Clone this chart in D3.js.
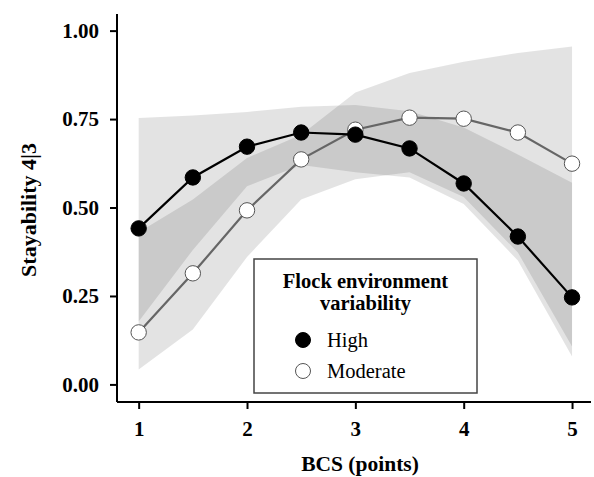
<!DOCTYPE html>
<html>
<head>
<meta charset="utf-8">
<script src="https://cdn.jsdelivr.net/npm/d3@7/dist/d3.min.js"></script>
<style>
  html, body { margin: 0; padding: 0; background: #fff; }
  svg { display: block; }
  text { font-family: "Liberation Serif", "Times New Roman", serif; }
</style>
</head>
<body>
<svg id="chart" width="594" height="477"></svg>
<script>
const bcs = [1, 1.5, 2, 2.5, 3, 3.5, 4, 4.5, 5];
const highValues = [0.441, 0.585, 0.672, 0.712, 0.706, 0.667, 0.568, 0.418, 0.246];
const highLower = [0.178, 0.38, 0.56, 0.62, 0.60, 0.585, 0.51, 0.35, 0.079];
const highUpper = [0.753, 0.76, 0.77, 0.785, 0.79, 0.772, 0.726, 0.65, 0.57];
const moderateValues = [0.147, 0.314, 0.492, 0.636, 0.72, 0.754, 0.751, 0.712, 0.624];
const moderateLower = [0.042, 0.155, 0.36, 0.523, 0.58, 0.60, 0.53, 0.373, 0.107];
const moderateUpper = [0.43, 0.523, 0.64, 0.706, 0.825, 0.88, 0.912, 0.937, 0.955];
const xTicks = [1, 2, 3, 4, 5];
const yTicks = [0, 0.25, 0.5, 0.75, 1.0];
const yTickLabels = ["0.00", "0.25", "0.50", "0.75", "1.00"];
const legendTitle = ["Flock environment", "variability"];
const seriesNames = ["High", "Moderate"];

const svg = d3.select("#chart");
const x = d3.scaleLinear().domain([0.8, 5.175]).range([117, 591]);
const y = d3.scaleLinear().domain([-0.0497, 1.047]).range([402, 14]);

const series = [
  { name: seriesNames[0], vals: highValues, lo: highLower, hi: highUpper, line: "#000", fill: "#000", stroke: "#000" },
  { name: seriesNames[1], vals: moderateValues, lo: moderateLower, hi: moderateUpper, line: "#666", fill: "#fff", stroke: "#555" }
];

// bands
const area = d3.area().x(d => x(d.x)).y0(d => y(d.lo)).y1(d => y(d.hi));
series.slice().reverse().forEach(s => {
  const pts = bcs.map((b, i) => ({ x: b, lo: s.lo[i], hi: s.hi[i] }));
  svg.append("path").attr("d", area(pts)).attr("fill", "#000").attr("fill-opacity", 0.11);
});

// lines
const line = d3.line().x(d => x(d.x)).y(d => y(d.v));
series.slice().reverse().forEach(s => {
  const pts = bcs.map((b, i) => ({ x: b, v: s.vals[i] }));
  svg.append("path").attr("d", line(pts)).attr("fill", "none")
    .attr("stroke", s.line).attr("stroke-width", 2.2);
});
series.slice().reverse().forEach(s => {
  svg.selectAll(null).data(bcs.map((b, i) => ({ x: b, v: s.vals[i] }))).enter()
    .append("circle").attr("cx", d => x(d.x)).attr("cy", d => y(d.v)).attr("r", 7.7)
    .attr("fill", s.fill).attr("stroke", s.stroke).attr("stroke-width", 1);
});

// axes
const xAxis = d3.axisBottom(x).tickValues(xTicks).tickFormat(d3.format("d")).tickSize(7).tickSizeOuter(0).tickPadding(12);
const gx = svg.append("g").attr("transform", "translate(0,402)").call(xAxis);
const yAxis = d3.axisLeft(y).tickValues(yTicks).tickFormat((d, i) => yTickLabels[i]).tickSize(7).tickSizeOuter(0).tickPadding(11);
const gy = svg.append("g").attr("transform", "translate(117,0)").call(yAxis);
[gx, gy].forEach(g => {
  g.select(".domain").attr("stroke", "#000").attr("stroke-width", 2);
  g.selectAll(".tick line").attr("stroke", "#000").attr("stroke-width", 2);
  g.selectAll(".tick text").attr("fill", "#000").attr("font-size", 21).attr("font-weight", "bold")
    .attr("font-family", '"Liberation Serif", serif');
});
gy.select(".domain").attr("d", "M0,402V14");
gx.select(".domain").attr("d", "M117,0H591");

// axis titles
svg.append("text").attr("x", 360).attr("y", 471).attr("text-anchor", "middle")
  .attr("font-size", 21.5).attr("font-weight", "bold").text("BCS (points)");
svg.append("text").attr("transform", "translate(36,210) rotate(-90)").attr("text-anchor", "middle")
  .attr("font-size", 22).attr("font-weight", "bold").text("Stayability 4|3");

// legend
const lg = svg.append("g");
lg.append("rect").attr("x", 254).attr("y", 259).attr("width", 223).attr("height", 134)
  .attr("fill", "#fff").attr("stroke", "#444").attr("stroke-width", 1.5);
legendTitle.forEach((t, i) => {
  lg.append("text").attr("x", 365.5).attr("y", 287.5 + i * 22).attr("text-anchor", "middle")
    .attr("font-size", 20.5).attr("font-weight", "bold").text(t);
});
series.forEach((s, i) => {
  const cy = 340 + i * 31;
  lg.append("circle").attr("cx", 303).attr("cy", cy).attr("r", 7.5)
    .attr("fill", s.fill).attr("stroke", s.stroke).attr("stroke-width", 1);
  lg.append("text").attr("x", 327).attr("y", cy + 7).attr("font-size", 20.5).text(s.name);
});
</script>
</body>
</html>
